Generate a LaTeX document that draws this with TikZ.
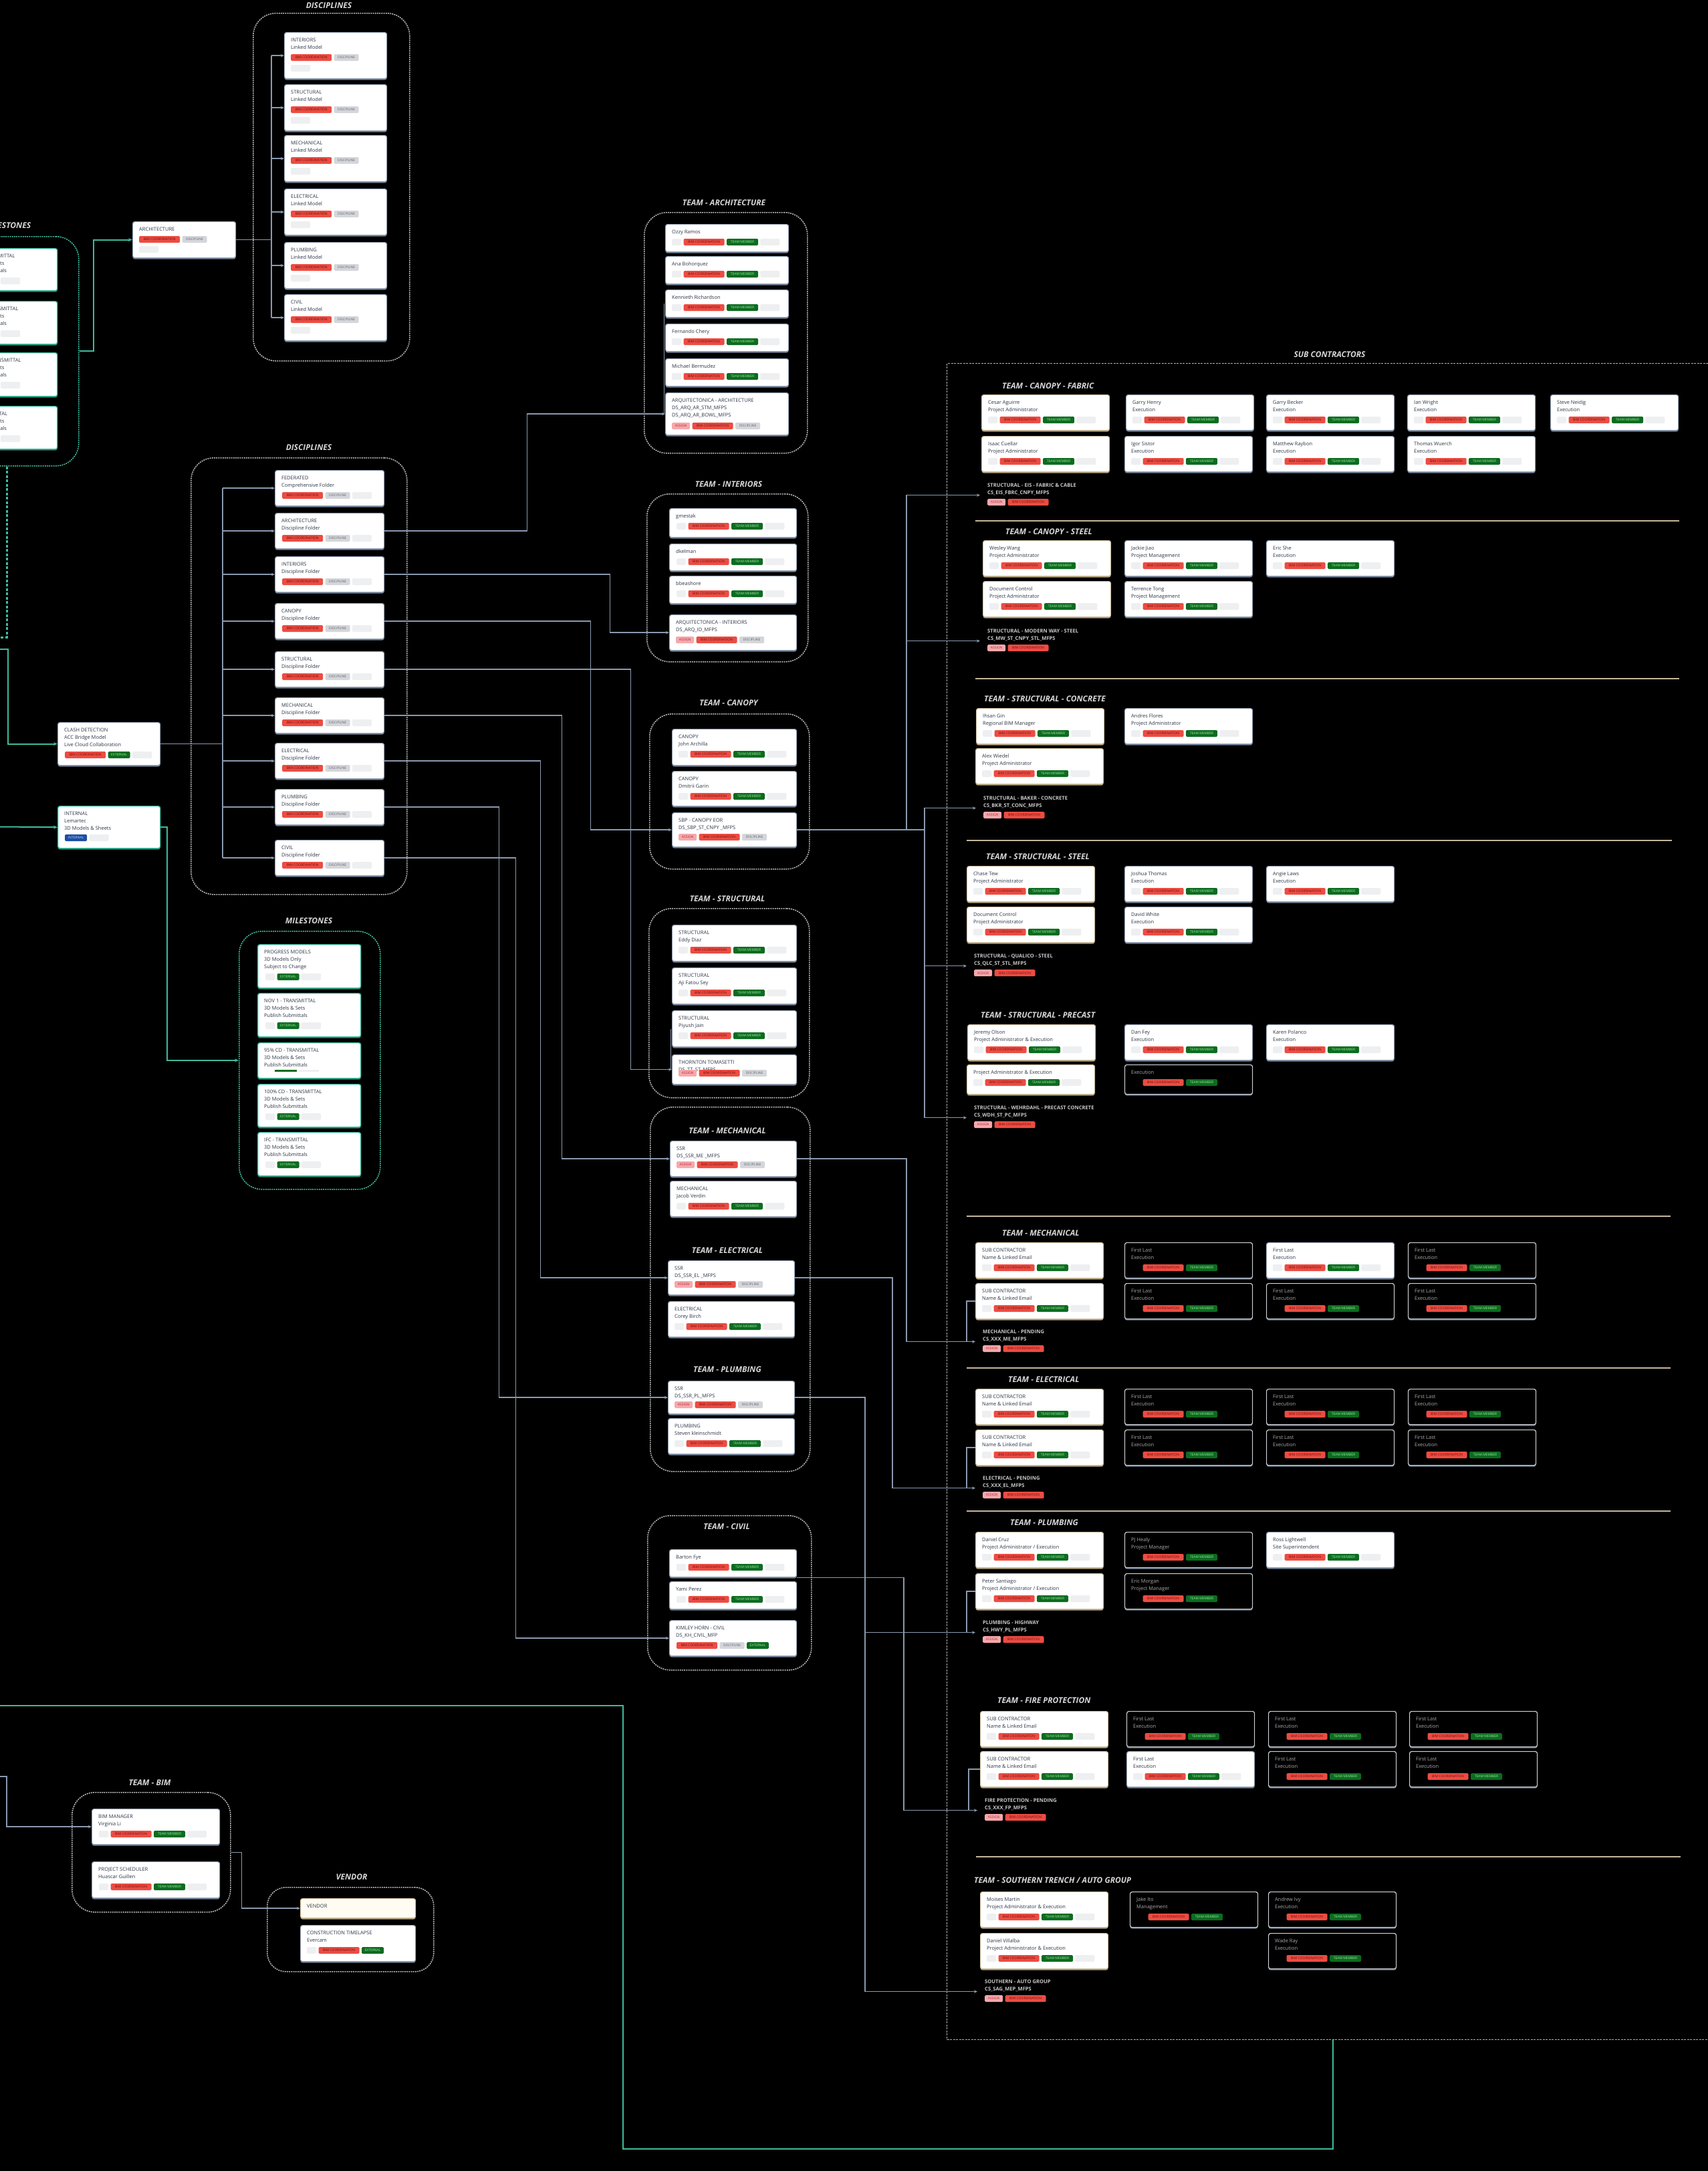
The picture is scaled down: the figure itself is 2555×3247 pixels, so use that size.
\documentclass[tikz,border=0pt]{standalone}
\usepackage{fontspec}
\setmainfont{Open Sans}
\usetikzlibrary{arrows.meta,shadows,calc,positioning}

% colours
\definecolor{cardink}{RGB}{45,55,72}
\definecolor{cardedge}{RGB}{150,163,182}
\definecolor{cardshade}{RGB}{112,126,146}
\definecolor{tanedge}{RGB}{206,190,158}
\definecolor{tanshade}{RGB}{176,160,128}
\definecolor{darkedge}{RGB}{205,208,214}
\definecolor{tealcol}{RGB}{62,186,156}
\definecolor{conncol}{RGB}{138,153,174}
\definecolor{grpcol}{RGB}{178,178,178}
\definecolor{divcol}{RGB}{196,182,156}
\definecolor{bimred}{RGB}{236,76,66}
\definecolor{bimredtxt}{RGB}{105,12,12}
\definecolor{tmgreen}{RGB}{12,108,32}
\definecolor{tmgreentxt}{RGB}{160,232,160}
\definecolor{discgray}{RGB}{212,214,218}
\definecolor{discgraytxt}{RGB}{95,100,110}
\definecolor{asgpink}{RGB}{246,168,172}
\definecolor{asgtxt}{RGB}{172,42,52}
\definecolor{intblue}{RGB}{28,78,164}
\definecolor{inttxt}{RGB}{196,214,255}
\definecolor{phgray}{RGB}{238,239,241}
\definecolor{ttlgray}{RGB}{214,214,214}
\definecolor{darkink}{RGB}{170,170,170}
\definecolor{lblgray}{RGB}{200,200,200}
\definecolor{vendfill}{RGB}{255,252,242}

\tikzset{
  card/.style={rectangle, draw=cardedge, line width=1.2pt, fill=white, rounded corners=3pt,
    general shadow={fill=cardshade, shadow yshift=-2pt}},
  tcard/.style={rectangle, draw=tanedge, line width=1.2pt, fill=white, rounded corners=3pt,
    general shadow={fill=tanshade, shadow yshift=-2pt}},
  dcard/.style={rectangle, draw=darkedge, line width=1.2pt, fill=black, rounded corners=3pt,
    general shadow={fill=cardshade, shadow yshift=-2pt}},
  mcard/.style={rectangle, draw=tealcol, line width=1.4pt, fill=white, rounded corners=3pt,
    general shadow={fill=tealcol!70!black, shadow yshift=-2pt}},
  vcard/.style={rectangle, draw=tanedge, line width=1.2pt, fill=vendfill, rounded corners=3pt,
    general shadow={fill=tanshade, shadow yshift=-2pt}},
  cardtxt/.style={font=\fontsize{7.5}{11}\selectfont, text=cardink, align=left, inner sep=0pt},
  tcardtxt/.style={cardtxt},
  mcardtxt/.style={cardtxt},
  vcardtxt/.style={cardtxt},
  dcardtxt/.style={cardtxt, text=darkink},
  badge/.style={rectangle, rounded corners=1.5pt, minimum height=10pt, inner xsep=2pt, inner ysep=0pt,
    text height=3.6pt, text depth=0pt, font=\fontsize{5}{5}\selectfont},
  bRed/.style={fill=bimred, text=bimredtxt, minimum width=61pt},
  bGrn/.style={fill=tmgreen, text=tmgreentxt, minimum width=47pt},
  bExt/.style={fill=tmgreen, text=tmgreentxt, minimum width=33pt},
  bGry/.style={fill=discgray, text=discgraytxt, minimum width=37pt},
  bPnk/.style={fill=asgpink, text=asgtxt, minimum width=27pt},
  bBlu/.style={fill=intblue, text=inttxt, minimum width=33pt},
  bPh/.style={fill=phgray, minimum width=29pt},
  bPhs/.style={fill=phgray, minimum width=14pt},
  bNone/.style={minimum width=14pt},
  grp/.style={rectangle, draw=grpcol, line width=1.6pt, dash pattern=on 2pt off 1.2pt, rounded corners=34pt},
  mgrp/.style={grp, draw=tealcol},
  subgrp/.style={rectangle, draw=grpcol, line width=1.4pt, dash pattern=on 3pt off 1.5pt},
  grpttl/.style={font=\bfseries\itshape\fontsize{12}{14}\selectfont, text=ttlgray, inner sep=1pt},
  subttl/.style={grpttl, anchor=west},
  sublbl/.style={font=\bfseries\fontsize{7.6}{11}\selectfont, text=lblgray, align=left,
    inner xsep=11pt, inner ysep=0pt, anchor=north west},
  conn/.style={draw=conncol, line width=1.4pt},
  arr/.style={conn, -{Stealth[length=5pt, width=4.5pt]}},
  tline/.style={draw=tealcol, line width=2pt},
  tarr/.style={tline, -{Stealth[length=6pt, width=5pt]}},
  tdash/.style={tline, line width=3pt, dash pattern=on 4pt off 2.5pt},
  divider/.style={draw=divcol, line width=2.6pt},
}

% card frame with its text
\newcommand{\mkcard}[7]{%
  \node[#2, minimum width=#5, minimum height=#6, anchor=north west] (#1) at (#3,#4) {};
  \node[#2txt, anchor=north west] (#1-t) at ([xshift=10,yshift=-9]#1.north west) {#7};
}
% row of tags, left to right
\newcommand{\mkbadges}[3]{%
  \node[inner sep=0pt, outer sep=0pt, minimum size=0pt] (#1-0) at (#2) {};
  \foreach \bs/\bt [count=\i] in {#3} {
    \pgfmathtruncatemacro{\bprev}{\i-1}
    \node[badge, \bs, anchor=west] (#1-\i) at ([xshift=3]#1-\bprev.east) {\bt};
  }%
}

\begin{document}
\begin{tikzpicture}[x=1pt, y=-1pt]
\useasboundingbox (0,0) rectangle (2555,3247);
\fill[black] (0,0) rectangle (2555,3247);
\clip (0,0) rectangle (2555,3247);

% bus columns
\coordinate (x10) at (10,0);
\coordinate (x12) at (12,0);
\coordinate (x140) at (140,0);
\coordinate (x250) at (250,0);
\coordinate (fdBus) at (333,0);
\coordinate (lmBus) at (406,0);
\coordinate (x1294) at (1294,0);
\coordinate (x1335) at (1335,0);
\coordinate (x1352) at (1352,0);
\coordinate (x1356) at (1356,0);
\coordinate (x1383) at (1383,0);

% ---- Disciplines (linked models)
\node[grp, minimum width=234, minimum height=520, anchor=north west] (gLm) at (378,19) {};
\node[grpttl] (gLm-ttl) at (492,8) {DISCIPLINES};
\foreach \nm/\yy/\ttl in {lm1/48/INTERIORS, lm2/126/STRUCTURAL, lm3/202/MECHANICAL,
    lm4/282/ELECTRICAL, lm5/362/PLUMBING, lm6/440/CIVIL} {
  \mkcard{\nm}{card}{425}{\yy}{153}{69}{\ttl\\Linked Model}
  \mkbadges{\nm-b}{[xshift=7,yshift=-38]\nm.north west}{bRed/BIM COORDINATION, bGry/DISCIPLINE}
  \mkbadges{\nm-p}{[xshift=7,yshift=-54]\nm.north west}{bPh/{}}
}

% architecture linked model
\mkcard{arch}{card}{198}{331}{154}{54}{ARCHITECTURE}
\mkbadges{arch-b}{[xshift=7,yshift=-27]arch.north west}{bRed/BIM COORDINATION, bGry/DISCIPLINE}
\mkbadges{arch-p}{[xshift=7,yshift=-42]arch.north west}{bPh/{}}

% ---- Milestones (cut by the left edge)
\node[mgrp, minimum width=212, minimum height=343, anchor=north west] (msTop) at (-95,353) {};
\node[grpttl] (msTop-ttl) at (11,337) {MILESTONES};
\foreach \nm/\yy/\hh/\ttl in {mt1/371/63/NOV 1 - TRANSMITTAL, mt2/450/64/95\% CD - TRANSMITTAL,
    mt3/527/65/100\% CD - TRANSMITTAL, mt4/607/64/IFC - TRANSMITTAL} {
  \mkcard{\nm}{mcard}{-65}{\yy}{150}{\hh}{\ttl\\3D Models \& Sets\\Publish Submittals}
  \mkbadges{\nm-b}{[xshift=9,yshift=-49]\nm.north west}{bPhs/{}, bExt/EXTERNAL, bPh/{}}
}

% clash detection and internal
\mkcard{clash}{card}{86}{1080}{153}{64}{CLASH DETECTION\\ACC Bridge Model\\Live Cloud Collaboration}
\mkbadges{clash-b}{[xshift=8,yshift=-49]clash.north west}{bRed/BIM COORDINATION, bExt/EXTERNAL, bPh/{}}
\mkcard{intl}{mcard}{86}{1205}{153}{63}{INTERNAL\\Lemartec\\3D Models \& Sheets}
\mkbadges{intl-b}{[xshift=8,yshift=-48]intl.north west}{bBlu/INTERNAL, bPh/{}}

% ---- Disciplines (folders)
\node[grp, minimum width=323, minimum height=653, anchor=north west] (gFd) at (285,684) {};
\node[grpttl] (gFd-ttl) at (462,669) {DISCIPLINES};
\foreach \nm/\yy/\ttl/\sub in {fdFed/703/FEDERATED/Comprehensive Folder,
    fdArch/767/ARCHITECTURE/Discipline Folder, fdInt/832/INTERIORS/Discipline Folder,
    fdCan/902/CANOPY/Discipline Folder, fdStr/974/STRUCTURAL/Discipline Folder,
    fdMech/1043/MECHANICAL/Discipline Folder, fdElec/1111/ELECTRICAL/Discipline Folder,
    fdPlmb/1180/PLUMBING/Discipline Folder, fdCivil/1256/CIVIL/Discipline Folder} {
  \mkcard{\nm}{card}{411}{\yy}{163}{53}{\ttl\\\sub}
  \mkbadges{\nm-b}{[xshift=8,yshift=-38]\nm.north west}{bRed/BIM COORDINATION, bGry/DISCIPLINE, bPh/{}}
}

% ---- Milestones
\node[mgrp, minimum width=211, minimum height=386, anchor=north west] (msBox) at (357,1392) {};
\node[grpttl] (msBox-ttl) at (462,1377) {MILESTONES};
\foreach \nm/\yy/\hh/\txt in {ms1/1412/65/{PROGRESS MODELS\\3D Models Only\\Subject to Change},
    ms2/1485/65/{NOV 1 - TRANSMITTAL\\3D Models \& Sets\\Publish Submittals},
    ms4/1621/64/{100\% CD - TRANSMITTAL\\3D Models \& Sets\\Publish Submittals},
    ms5/1693/65/{IFC - TRANSMITTAL\\3D Models \& Sets\\Publish Submittals}} {
  \mkcard{\nm}{mcard}{385}{\yy}{154}{\hh}{\txt}
  \mkbadges{\nm-b}{[xshift=9,yshift=-49]\nm.north west}{bPhs/{}, bExt/EXTERNAL, bPh/{}}
}
\mkcard{ms3}{mcard}{385}{1559}{154}{53}{95\% CD - TRANSMITTAL\\3D Models \& Sets\\Publish Submittals}
\node[fill=tmgreen, minimum width=33, minimum height=3, inner sep=0pt, anchor=north west] (ms3-s1)
  at ([xshift=26,yshift=-41]ms3.north west) {};
\node[fill=phgray, minimum width=29, minimum height=3, inner sep=0pt, anchor=north west] (ms3-s2)
  at ([xshift=63,yshift=-41]ms3.north west) {};

% ---- Team architecture
\node[grp, minimum width=244, minimum height=360, anchor=north west] (gTa) at (963,317) {};
\node[grpttl] (gTa-ttl) at (1083,303) {TEAM - ARCHITECTURE};
\foreach \nm/\yy/\ttl in {ta1/335/Ozzy Ramos, ta2/383/Ana Bohorquez, ta3/433/Kennieth Richardson,
    ta4/484/Fernando Chery, ta5/536/Michael Bermudez} {
  \mkcard{\nm}{card}{995}{\yy}{184}{41}{\ttl}
  \mkbadges{\nm-b}{[xshift=7,yshift=-27]\nm.north west}{bPhs/{}, bRed/BIM COORDINATION, bGrn/TEAM MEMBER, bPh/{}}
}
\mkcard{taArq}{card}{995}{587}{184}{63}{ARQUITECTONICA - ARCHITECTURE\\DS\_ARQ\_AR\_STM\_MFPS\\DS\_ARQ\_AR\_BOWL\_MFPS}
\mkbadges{taArq-b}{[xshift=7,yshift=-50]taArq.north west}{bPnk/ASSIGN, bRed/BIM COORDINATION, bGry/DISCIPLINE}

% ---- Team interiors
\node[grp, minimum width=241, minimum height=251, anchor=north west] (gTi) at (967,738) {};
\node[grpttl] (gTi-ttl) at (1090,724) {TEAM - INTERIORS};
\foreach \nm/\yy/\hh/\ttl in {ti1/760/43/gmestak, ti2/813/40/dkelman, ti3/861/41/bbeashore} {
  \mkcard{\nm}{card}{1001}{\yy}{190}{\hh}{\ttl}
  \mkbadges{\nm-b}{[xshift=8,yshift=-27]\nm.north west}{bPhs/{}, bRed/BIM COORDINATION, bGrn/TEAM MEMBER, bPh/{}}
}
\mkcard{tiArq}{card}{1001}{919}{190}{53}{ARQUITECTONICA - INTERIORS\\DS\_ARQ\_ID\_MFPS}
\mkbadges{tiArq-b}{[xshift=7,yshift=-38]tiArq.north west}{bPnk/ASSIGN, bRed/BIM COORDINATION, bGry/DISCIPLINE}

% ---- Team canopy
\node[grp, minimum width=239, minimum height=232, anchor=north west] (gTc) at (971,1067) {};
\node[grpttl] (gTc-ttl) at (1090,1051) {TEAM - CANOPY};
\foreach \nm/\yy/\hh/\ttl in {tc1/1090/54/John Archilla, tc2/1153/52/Dmitrii Garin} {
  \mkcard{\nm}{card}{1005}{\yy}{186}{\hh}{CANOPY\\\ttl}
  \mkbadges{\nm-b}{[xshift=7,yshift=-38]\nm.north west}{bPhs/{}, bRed/BIM COORDINATION, bGrn/TEAM MEMBER, bPh/{}}
}
\mkcard{tcSbp}{card}{1005}{1215}{186}{51}{SBP - CANOPY EOR\\DS\_SBP\_ST\_CNPY \_MFPS}
\mkbadges{tcSbp-b}{[xshift=7,yshift=-37]tcSbp.north west}{bPnk/ASSIGN, bRed/BIM COORDINATION, bGry/DISCIPLINE}

% ---- Team structural
\node[grp, minimum width=240, minimum height=283, anchor=north west] (gTs) at (970,1358) {};
\node[grpttl] (gTs-ttl) at (1088,1344) {TEAM - STRUCTURAL};
\foreach \nm/\yy/\ttl in {ts1/1383/Eddy Diaz, ts2/1447/Aji Fatou Sey, ts3/1511/Piyush Jain} {
  \mkcard{\nm}{card}{1005}{\yy}{186}{54}{STRUCTURAL\\\ttl}
  \mkbadges{\nm-b}{[xshift=7,yshift=-38]\nm.north west}{bPhs/{}, bRed/BIM COORDINATION, bGrn/TEAM MEMBER, bPh/{}}
}
\mkcard{tsTt}{card}{1005}{1577}{186}{44}{THORNTON TOMASETTI\\DS\_TT\_ST\_MFPS}
\mkbadges{tsTt-b}{[xshift=7,yshift=-28]tsTt.north west}{bPnk/ASSIGN, bRed/BIM COORDINATION, bGry/DISCIPLINE}

% ---- Team mechanical / electrical / plumbing
\node[grp, minimum width=239, minimum height=545, anchor=north west] (gTm) at (972,1655) {};
\node[grpttl] (gTm-ttl1) at (1088,1691) {TEAM - MECHANICAL};
\node[grpttl] (gTm-ttl2) at (1088,1870) {TEAM - ELECTRICAL};
\node[grpttl] (gTm-ttl3) at (1088,2048) {TEAM - PLUMBING};
\foreach \nm/\xx/\yy/\hh/\txt in {tmSsr/1002/1706/53/{SSR\\DS\_SSR\_ME \_MFPS},
    teSsr/999/1885/51/{SSR\\DS\_SSR\_EL \_MFPS}, tpSsr/999/2065/49/{SSR\\DS\_SSR\_PL\_MFPS}} {
  \mkcard{\nm}{card}{\xx}{\yy}{189}{\hh}{\txt}
  \mkbadges{\nm-b}{[xshift=7,yshift=-36]\nm.north west}{bPnk/ASSIGN, bRed/BIM COORDINATION, bGry/DISCIPLINE}
}
\foreach \nm/\xx/\yy/\txt in {tm1/1002/1766/{MECHANICAL\\Jacob Verdin},
    te1/999/1946/{ELECTRICAL\\Corey Birch}, tp1/999/2121/{PLUMBING\\Steven kleinschmidt}} {
  \mkcard{\nm}{card}{\xx}{\yy}{189}{53}{\txt}
  \mkbadges{\nm-b}{[xshift=7,yshift=-38]\nm.north west}{bPhs/{}, bRed/BIM COORDINATION, bGrn/TEAM MEMBER, bPh/{}}
}

% ---- Team civil
\node[grp, minimum width=245, minimum height=231, anchor=north west] (gTv) at (968,2266) {};
\node[grpttl] (gTv-ttl) at (1087,2283) {TEAM - CIVIL};
\foreach \nm/\yy/\ttl in {tv1/2317/Barton Fye, tv2/2365/Yami Perez} {
  \mkcard{\nm}{card}{1001}{\yy}{190}{41}{\ttl}
  \mkbadges{\nm-b}{[xshift=8,yshift=-27]\nm.north west}{bPhs/{}, bRed/BIM COORDINATION, bGrn/TEAM MEMBER, bPh/{}}
}
\mkcard{tvKh}{card}{1001}{2423}{190}{53}{KIMLEY HORN - CIVIL\\DS\_KH\_CIVIL\_MFP}
\mkbadges{tvKh-b}{[xshift=8,yshift=-38]tvKh.north west}{bRed/BIM COORDINATION, bGry/DISCIPLINE, bExt/EXTERNAL}

% ---- Team BIM and vendor
\node[grp, minimum width=237, minimum height=179, anchor=north west] (gTb) at (107,2680) {};
\node[grpttl] (gTb-ttl) at (224,2666) {TEAM - BIM};
\mkcard{bim1}{card}{137}{2705}{191}{53}{BIM MANAGER\\Virginia Li}
\mkcard{bim2}{card}{137}{2784}{191}{54}{PROJECT SCHEDULER\\Huascar Guillen}
\foreach \nm in {bim1, bim2}
  \mkbadges{\nm-b}{[xshift=8,yshift=-38]\nm.north west}{bPhs/{}, bRed/BIM COORDINATION, bGrn/TEAM MEMBER, bPh/{}};
\node[grp, minimum width=249, minimum height=126, anchor=north west, rounded corners=28pt] (gVd) at (399,2822) {};
\node[grpttl] (gVd-ttl) at (526,2807) {VENDOR};
\mkcard{vd1}{vcard}{449}{2839}{172}{29}{VENDOR}
\mkcard{vd2}{card}{449}{2879}{172}{54}{CONSTRUCTION TIMELAPSE\\Evercam}
\mkbadges{vd2-b}{[xshift=7,yshift=-38]vd2.north west}{bPhs/{}, bRed/BIM COORDINATION, bExt/EXTERNAL}

% ---- Sub contractors
\node[subgrp, minimum width=1154, minimum height=2507, anchor=north west] (gSub) at (1416,543) {};
\node[grpttl] (gSub-ttl) at (1989,530) {SUB CONTRACTORS};

% section titles
\node[subttl] (sFab-ttl) at (1498,577) {TEAM - CANOPY - FABRIC};
\node[subttl] (sCSt-ttl) at (1503,795) {TEAM - CANOPY - STEEL};
\node[subttl] (sCon-ttl) at (1471,1045) {TEAM - STRUCTURAL - CONCRETE};
\node[subttl] (sSSt-ttl) at (1474,1281) {TEAM - STRUCTURAL - STEEL};
\node[subttl] (sPre-ttl) at (1466,1518) {TEAM - STRUCTURAL - PRECAST};
\node[subttl] (sMec-ttl) at (1498,1844) {TEAM - MECHANICAL};
\node[subttl] (sEle-ttl) at (1507,2063) {TEAM - ELECTRICAL};
\node[subttl] (sPlu-ttl) at (1510,2277) {TEAM - PLUMBING};
\node[subttl] (sFir-ttl) at (1491,2543) {TEAM - FIRE PROTECTION};
\node[subttl] (sSou-ttl) at (1456,2812) {TEAM - SOUTHERN TRENCH / AUTO GROUP};

% dividers
\draw[divider] (1459,779) -- (2512,779);
\draw[divider] (1459,1015) -- (2512,1015);
\draw[divider] (1446,1257) -- (2501,1257);
\draw[divider] (1446,1819) -- (2499,1819);
\draw[divider] (1446,2046) -- (2499,2046);
\draw[divider] (1446,2260) -- (2499,2260);
\draw[divider] (1460,2777) -- (2514,2777);

% white sub cards, first column
\foreach \nm/\xx/\yy/\txt in {
    sf1/1468/590/{Cesar Aguirre\\Project Administrator}, sf6/1468/652/{Isaac Cuellar\\Project Administrator},
    ss1/1470/808/{Wesley Wang\\Project Administrator}, ss4/1470/869/{Document Control\\Project Administrator},
    sc1/1460/1059/{Ihsan Gin\\Regional BIM Manager}, sc3/1459/1119/{Alex Wiedel\\Project Administrator},
    st1/1446/1295/{Chase Tew\\Project Administrator}, st4/1446/1356/{Document Control\\Project Administrator},
    sp1/1447/1532/{Jeremy Olson\\Project Administrator \& Execution},
    sm1/1459/1858/{SUB CONTRACTOR\\Name \& Linked Email}, sm5/1459/1919/{SUB CONTRACTOR\\Name \& Linked Email},
    se1/1459/2077/{SUB CONTRACTOR\\Name \& Linked Email}, se5/1459/2138/{SUB CONTRACTOR\\Name \& Linked Email},
    sq1/1459/2291/{Daniel Cruz\\Project Administrator / Execution},
    sq4/1459/2353/{Peter Santiago\\Project Administrator / Execution},
    fp1/1466/2559/{SUB CONTRACTOR\\Name \& Linked Email}, fp5/1466/2619/{SUB CONTRACTOR\\Name \& Linked Email},
    so1/1466/2829/{Moises Martin\\Project Administrator \& Execution},
    so4/1466/2891/{Daniel Villalba\\Project Administrator \& Execution}} {
  \mkcard{\nm}{tcard}{\xx}{\yy}{191}{53}{\txt}
  \mkbadges{\nm-b}{[xshift=7,yshift=-38]\nm.north west}{bPhs/{}, bRed/BIM COORDINATION, bGrn/TEAM MEMBER, bPh/{}}
}
\mkcard{sp4}{tcard}{1446}{1592}{191}{44}{Project Administrator \& Execution}
\mkbadges{sp4-b}{[xshift=7,yshift=-27]sp4.north west}{bPhs/{}, bRed/BIM COORDINATION, bGrn/TEAM MEMBER, bPh/{}}

% white sub cards, other columns
\foreach \nm/\xx/\yy/\txt in {
    sf2/1684/590/{Garry Henry\\Execution}, sf3/1894/590/{Garry Becker\\Execution},
    sf4/2105/590/{Ian Wright\\Execution}, sf5/2319/590/{Steve Neidig\\Execution},
    sf7/1682/652/{Igor Sistor\\Execution}, sf8/1894/652/{Matthew Raybon\\Execution},
    sf9/2105/652/{Thomas Wuerch\\Execution},
    ss2/1682/808/{Jackie Jiao\\Project Management}, ss3/1894/808/{Eric She\\Execution},
    ss5/1682/869/{Terrence Tong\\Project Management},
    sc2/1682/1059/{Andres Flores\\Project Administrator},
    st2/1682/1295/{Joshua Thomas\\Execution}, st3/1894/1295/{Angie Laws\\Execution},
    st5/1682/1356/{David White\\Execution},
    sp2/1682/1532/{Dan Fey\\Execution}, sp3/1894/1532/{Karen Polanco\\Execution},
    sm3/1894/1858/{First Last\\Execution},
    sq3/1894/2291/{Ross Lightwell\\Site Superintendent},
    fp6/1685/2619/{First Last\\Execution}} {
  \mkcard{\nm}{card}{\xx}{\yy}{191}{53}{\txt}
  \mkbadges{\nm-b}{[xshift=7,yshift=-38]\nm.north west}{bPhs/{}, bRed/BIM COORDINATION, bGrn/TEAM MEMBER, bPh/{}}
}

% dark sub cards
\foreach \nm/\xx/\yy/\txt in {
    sm2/1682/1858/{First Last\\Execution}, sm4/2106/1858/{First Last\\Execution},
    sm6/1682/1919/{First Last\\Execution}, sm7/1894/1919/{First Last\\Execution},
    sm8/2106/1919/{First Last\\Execution},
    se2/1682/2077/{First Last\\Execution}, se3/1894/2077/{First Last\\Execution},
    se4/2106/2077/{First Last\\Execution},
    se6/1682/2138/{First Last\\Execution}, se7/1894/2138/{First Last\\Execution},
    se8/2106/2138/{First Last\\Execution},
    sq2/1682/2291/{PJ Healy\\Project Manager}, sq5/1682/2353/{Eric Morgan\\Project Manager},
    fp2/1685/2559/{First Last\\Execution}, fp3/1897/2559/{First Last\\Execution},
    fp4/2108/2559/{First Last\\Execution},
    fp7/1897/2619/{First Last\\Execution}, fp8/2108/2619/{First Last\\Execution},
    so2/1690/2829/{Jake Ito\\Management}, so3/1897/2829/{Andrew Ivy\\Execution},
    so5/1897/2891/{Wade Ray\\Execution}} {
  \mkcard{\nm}{dcard}{\xx}{\yy}{191}{53}{\txt}
  \mkbadges{\nm-b}{[xshift=7,yshift=-38]\nm.north west}{bNone/{}, bRed/BIM COORDINATION, bGrn/TEAM MEMBER}
}
\mkcard{sp5}{dcard}{1682}{1592}{191}{44}{Execution}
\mkbadges{sp5-b}{[xshift=7,yshift=-27]sp5.north west}{bNone/{}, bRed/BIM COORDINATION, bGrn/TEAM MEMBER}

% sub contract model labels
\foreach \nm/\xx/\yy/\txt in {
    lFab/1466/722.5/{STRUCTURAL - EIS - FABRIC \& CABLE\\CS\_EIS\_FBRC\_CNPY\_MFPS},
    lCStl/1466/940.5/{STRUCTURAL - MODERN WAY - STEEL\\CS\_MW\_ST\_CNPY\_STL\_MFPS},
    lConc/1460/1190.5/{STRUCTURAL - BAKER - CONCRETE\\CS\_BKR\_ST\_CONC\_MFPS},
    lQlc/1446/1426.5/{STRUCTURAL - QUALICO - STEEL\\CS\_QLC\_ST\_STL\_MFPS},
    lPc/1446/1653.5/{STRUCTURAL - WEHRDAHL - PRECAST CONCRETE\\CS\_WDH\_ST\_PC\_MFPS},
    lMech/1459/1988.5/{MECHANICAL - PENDING\\CS\_XXX\_ME\_MFPS},
    lElec/1459/2207.5/{ELECTRICAL - PENDING\\CS\_XXX\_EL\_MFPS},
    lPlmb/1459/2423.5/{PLUMBING - HIGHWAY\\CS\_HWY\_PL\_MFPS},
    lFire/1462/2689.5/{FIRE PROTECTION - PENDING\\CS\_XXX\_FP\_MFPS},
    lSouth/1462/2960.5/{SOUTHERN - AUTO GROUP\\CS\_SAG\_MEP\_MFPS}} {
  \node[sublbl] (\nm) at (\xx,\yy) {\txt};
  \mkbadges{\nm-b}{[xshift=8,yshift=-10.5]\nm.south west}{bPnk/ASSIGN, bRed/BIM COORDINATION}
}

% ---- Connectors, left side
\draw[conn] (lm1.west -| lmBus) -- (lm6.west -| lmBus);
\foreach \nm in {lm1, lm2, lm3, lm4, lm5, lm6}
  \draw[arr] (\nm.west -| lmBus) -- (\nm.west);
\draw[conn] (arch.east) -- (arch.east -| lmBus);
\draw[tarr] (msTop.east) -- (msTop.east -| x140) |- (arch.west);
\draw[tdash] (msTop.south -| x10) -- (10,953) -- (0,953);
\coordinate (offA) at (0,971);
\draw[tarr] (offA) -- (offA -| x12) |- (clash.west);
\coordinate (offB) at (0,1236.5);
\draw[tarr] (offB) -- (intl.west);
\draw[tarr] (intl.east) -- (intl.east -| x250) |- (msBox.west);
\draw[conn] (fdFed.west -| fdBus) -- (fdCivil.west -| fdBus);
\foreach \nm in {fdFed, fdArch, fdInt, fdCan, fdStr, fdMech, fdElec, fdPlmb, fdCivil}
  \draw[arr] (\nm.west -| fdBus) -- (\nm.west);
\draw[conn] (clash.east) -- (clash.east -| fdBus);
\coordinate (offC) at (0,2657);
\draw[arr] (offC) -- (offC -| x10) |- (bim1.west);
\draw[arr] (gTb.east) -- ++(16,0) |- (vd1.west);
\coordinate (offD) at (0,2551);
\coordinate (tealTurn) at (932,3214);
\draw[tline] (offD) -| (tealTurn) -| (gSub.south);

% disciplines to teams
\draw[arr] (fdArch.east) -- ++(213,0) |- (taArq.west);
\draw[arr] (fdInt.east) -- ++(337,0) |- (tiArq.west);
\draw[arr] (fdCan.east) -- ++(308,0) |- (tcSbp.west);
\draw[arr] (fdStr.east) -- ++(368,0) |- (tsTt.west);
\draw[arr] (fdMech.east) -- ++(265,0) |- (tmSsr.west);
\draw[arr] (fdElec.east) -- ++(233,0) |- (teSsr.west);
\draw[arr] (fdPlmb.east) -- ++(171,0) |- (tpSsr.west);
\draw[arr] (fdCivil.east) -- ++(196,0) |- (tvKh.west);
\draw[conn, line width=0.8pt] ([xshift=-2]ta3.west) -- ([xshift=-2]taArq.west);
\draw[conn, line width=0.8pt] ([xshift=-2]ts3.west) -- ([xshift=-2]tsTt.west);

% teams to sub contractors
\draw[arr] (tcSbp.east) -- (tcSbp.east -| x1356) |- (lFab.south west);
\draw[arr] (tcSbp.east -| x1356) |- (lCStl.south west);
\draw[conn] (tcSbp.east -| x1356) -- (tcSbp.east -| x1383);
\draw[arr] (tcSbp.east -| x1383) |- (lConc.south west);
\draw[arr] (tcSbp.east -| x1383) |- (lQlc.south west);
\draw[arr] (tcSbp.east -| x1383) |- (lPc.south west);
\draw[arr] (tmSsr.east) -- (tmSsr.east -| x1356) |- (lMech.south west);
\draw[arr] (teSsr.east) -- (teSsr.east -| x1335) |- (lElec.south west);
\draw[arr] (tpSsr.east) -- (tpSsr.east -| x1294) |- (lPlmb.south west);
\draw[arr] (tpSsr.east -| x1294) |- (lSouth.south west);
\draw[arr] (tv1.south east) -- (tv1.south east -| x1352) |- (lFire.south west);
\draw[conn] (sm5.west) -| ([xshift=-13]lMech.south west);
\draw[conn] (se5.west) -| ([xshift=-13]lElec.south west);
\draw[conn] (sq4.west) -| ([xshift=-13]lPlmb.south west);
\draw[conn] (fp5.west) -| ([xshift=-13]lFire.south west);

\end{tikzpicture}
\end{document}
